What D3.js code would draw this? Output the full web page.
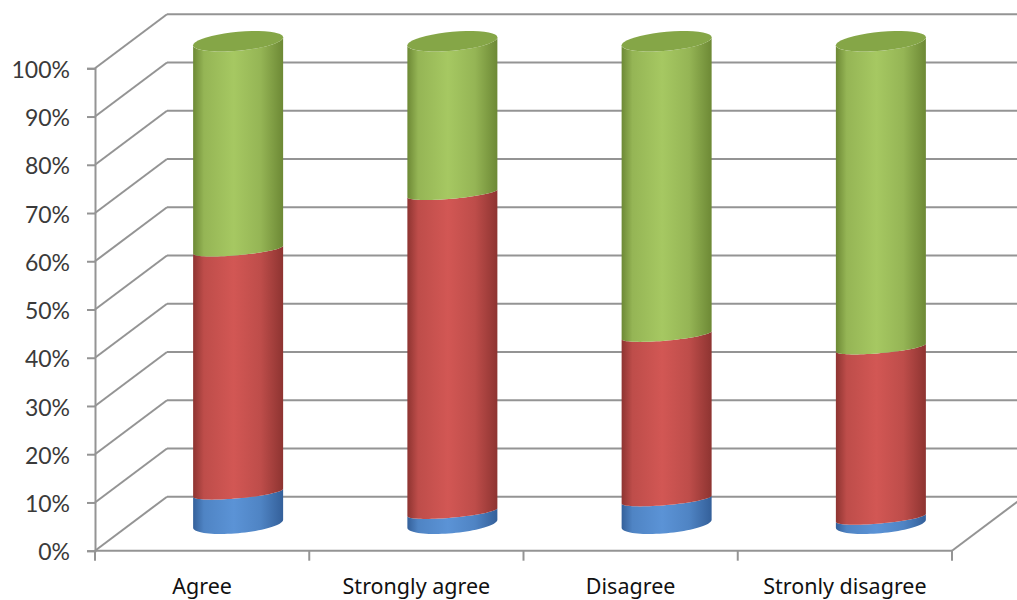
<!DOCTYPE html>
<html>
<head>
<meta charset="utf-8">
<script src="https://cdn.jsdelivr.net/npm/d3@7/dist/d3.min.js"></script>
<style>
  html, body { margin: 0; padding: 0; background: #ffffff; }
  svg { display: block; }
</style>
</head>
<body>
<svg id="chart" width="1017" height="600"></svg>
<script>
// Response categories along the floor
const categories = ["Agree", "Strongly agree", "Disagree", "Stronly disagree"];

// Stacked shares (per cent of each category), bottom to top
const seriesBlue  = [6.4, 2.4, 5.0, 1.2];
const seriesRed   = [50.4, 66.1, 34.1, 35.3];
const seriesGreen = [43.2, 31.5, 60.9, 63.5];

// Value-axis tick labels
const tickValues = [0, 10, 20, 30, 40, 50, 60, 70, 80, 90, 100];

const seriesList = [
  { key: "blue",  values: seriesBlue,  edge: "#34609a", mid: "#5b93d6", face: "#4677b8" },
  { key: "red",   values: seriesRed,   edge: "#8e3431", mid: "#d25754", face: "#b04946" },
  { key: "green", values: seriesGreen, edge: "#6d8935", mid: "#a6c862", face: "#85a647" }
];

const svg = d3.select("#chart");
const defs = svg.append("defs");

// Front plane of the plot and the oblique depth of the 3-D box
const y = d3.scaleLinear().domain([0, 100]).range([550.7, 68.3]);
const x = d3.scaleBand().domain(categories).range([95, 952]);
const depth = { dx: 72, dy: -54 };
const gridColor = "#949494";

// ---- walls and floor ----
const walls = svg.append("g").attr("fill", "none").attr("stroke", gridColor).attr("stroke-width", 2);

// back-wall horizontal gridlines
walls.selectAll("line.back").data(tickValues).join("line")
  .attr("class", "back")
  .attr("x1", x.range()[0] + depth.dx).attr("x2", 1017)
  .attr("y1", d => y(d) + depth.dy).attr("y2", d => y(d) + depth.dy);

// side-wall diagonals
walls.selectAll("line.side").data(tickValues).join("line")
  .attr("class", "side")
  .attr("x1", x.range()[0]).attr("x2", x.range()[0] + depth.dx)
  .attr("y1", d => y(d)).attr("y2", d => y(d) + depth.dy);

// floor front edge and right edge
walls.append("line")
  .attr("x1", x.range()[0]).attr("x2", x.range()[1])
  .attr("y1", y(0)).attr("y2", y(0));
walls.append("line")
  .attr("x1", x.range()[1]).attr("x2", x.range()[1] + depth.dx)
  .attr("y1", y(0)).attr("y2", y(0) + depth.dy);

// category boundary ticks on the floor edge
const bounds = categories.map(c => x(c)).concat([x.range()[1]]);
walls.selectAll("line.xtick").data(bounds).join("line")
  .attr("class", "xtick")
  .attr("x1", d => d).attr("x2", d => d)
  .attr("y1", y(0)).attr("y2", y(0) + 10);

// ---- value axis ----
const yAxis = d3.axisLeft(y)
  .tickValues(tickValues)
  .tickFormat(d => d + "%")
  .tickSize(8)
  .tickPadding(17);

const yg = svg.append("g")
  .attr("transform", `translate(${x.range()[0]},0)`)
  .call(yAxis);
yg.select(".domain").attr("stroke", gridColor).attr("stroke-width", 2);
yg.selectAll(".tick line").attr("stroke", gridColor).attr("stroke-width", 2);
yg.selectAll(".tick text")
  .attr("font-family", "Lato, 'Open Sans', sans-serif")
  .attr("font-size", 23)
  .attr("fill", "#3a3a3a")
  .attr("dy", "0.4em");

// ---- category labels ----
svg.append("g").selectAll("text").data(categories).join("text")
  .attr("x", d => x(d) + x.bandwidth() / 2)
  .attr("y", 593.5)
  .attr("text-anchor", "middle")
  .attr("font-family", "'Noto Sans', 'Open Sans', sans-serif")
  .attr("font-size", 21.5)
  .attr("fill", "#111")
  .text(d => d);

// ---- cylinders ----
const radiusX = 45;          // half width of each cylinder
const tilt = -4;             // vertical skew of the ellipses
const faceDepth = 9.5;       // half height of top / bottom faces
const seamDepth = 5.5;       // half height of the joins between stacks

function ellipsePt(cx, cy, t, b) {
  return [cx + radiusX * Math.cos(t), cy + b * Math.sin(t) + tilt * Math.cos(t)];
}

// sampled arc of the ellipse from angle t0 to t1
function arcPts(cx, cy, b, t0, t1) {
  const n = 40, pts = [];
  for (let i = 0; i <= n; i++) {
    const t = t0 + (t1 - t0) * i / n;
    pts.push(ellipsePt(cx, cy, t, b));
  }
  return pts;
}

function segmentPath(cx, cyBot, cyTop, bBot, bTop) {
  const pts = [];
  pts.push(ellipsePt(cx, cyTop, Math.PI, bTop));
  pts.push(...arcPts(cx, cyBot, bBot, Math.PI, 0));
  pts.push(...arcPts(cx, cyTop, bTop, 0, Math.PI));
  return d3.line()(pts) + "Z";
}

function facePath(cx, cy, b) {
  return d3.line()(arcPts(cx, cy, b, 0, 2 * Math.PI)) + "Z";
}

// side gradients
seriesList.forEach(s => {
  const g = defs.append("linearGradient")
    .attr("id", "grad-" + s.key)
    .attr("x1", "0").attr("x2", "1").attr("y1", "0").attr("y2", "0");
  g.append("stop").attr("offset", "0%").attr("stop-color", s.edge);
  g.append("stop").attr("offset", "12%").attr("stop-color", d3.interpolateRgb(s.edge, s.mid)(0.7));
  g.append("stop").attr("offset", "45%").attr("stop-color", s.mid);
  g.append("stop").attr("offset", "75%").attr("stop-color", d3.interpolateRgb(s.mid, s.edge)(0.3));
  g.append("stop").attr("offset", "100%").attr("stop-color", s.edge);
});

const cylG = svg.append("g");
categories.forEach((cat, i) => {
  const cx = x(cat) + x.bandwidth() / 2 + depth.dx / 2;
  const off = depth.dy / 2;
  let acc = 0;
  seriesList.forEach((s, k) => {
    const v0 = acc, v1 = acc + s.values[i];
    acc = v1;
    const isTop = k === seriesList.length - 1;
    const bBot = v0 === 0 ? faceDepth : seamDepth;
    const bTop = isTop ? faceDepth : seamDepth;
    cylG.append("path")
      .attr("d", segmentPath(cx, y(v0) + off, y(v1) + off, bBot, bTop))
      .attr("fill", `url(#grad-${s.key})`);
    if (isTop) {
      cylG.append("path")
        .attr("d", facePath(cx, y(v1) + off, faceDepth))
        .attr("fill", s.face);
    }
  });
});
</script>
</body>
</html>
